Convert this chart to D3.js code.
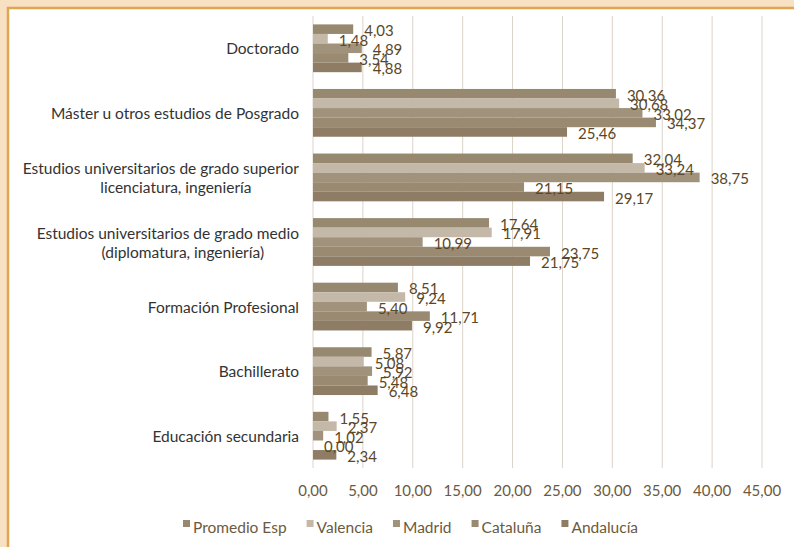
<!DOCTYPE html>
<html>
<head>
<meta charset="utf-8">
<script src="https://cdn.jsdelivr.net/npm/d3@7"></script>
<style>
  html, body { margin: 0; padding: 0; background: #f8e0c2; }
  svg { display: block; font-family: Lato, "Open Sans", sans-serif; }
</style>
</head>
<body>
<svg width="794" height="547"></svg>
<script>
const categories = [
	'Doctorado',
	'Máster u otros estudios de Posgrado',
	'Estudios universitarios de grado superior|licenciatura, ingeniería',
	'Estudios universitarios de grado medio|(diplomatura, ingeniería)',
	'Formación Profesional',
	'Bachillerato',
	'Educación secundaria'
]
const seriesNames = ['Promedio Esp', 'Valencia', 'Madrid', 'Cataluña', 'Andalucía']
const promedio = [4.03, 30.36, 32.04, 17.64, 8.51, 5.87, 1.55]
const valencia = [1.48, 30.68, 33.24, 17.91, 9.24, 5.08, 2.37]
const madrid = [4.89, 33.02, 38.75, 10.99, 5.40, 5.92, 1.02]
const cataluna = [3.54, 34.37, 21.15, 23.75, 11.71, 5.48, 0.00]
const andalucia = [4.88, 25.46, 29.17, 21.75, 9.92, 6.48, 2.34]
const xTicks = [0, 5, 10, 15, 20, 25, 30, 35, 40, 45]

const colors = ['#978870', '#c4b9a9', '#a0927b', '#998a71', '#8e7d64']
const series = [promedio, valencia, madrid, cataluna, andalucia]

const svg = d3.select('svg')
const width = 794, height = 547

// white panel with orange frame
svg.append('rect').attr('x', 8).attr('y', 8).attr('width', width).attr('height', height)
	.attr('fill', '#fff').attr('stroke', '#e0a552').attr('stroke-width', 2.5)

const locale = d3.formatLocale({decimal: ',', thousands: '.', grouping: [3], currency: ['', '€']})
const fmt = locale.format('.2f')

const x = d3.scaleLinear().domain([0, 45]).range([313, 762])
const y = d3.scaleBand().domain(d3.range(categories.length)).range([16, 468])
	.paddingInner(0.26).paddingOuter(0.13)
const ys = d3.scaleBand().domain(d3.range(seriesNames.length)).range([0, y.bandwidth()])

// gridlines
svg.append('g').selectAll('line').data(xTicks).join('line')
	.attr('x1', d => x(d)).attr('x2', d => x(d))
	.attr('y1', 16).attr('y2', 468)
	.attr('stroke', '#dcd3c8').attr('stroke-width', 1)

// tick labels
svg.append('g').selectAll('text').data(xTicks).join('text')
	.attr('x', d => x(d)).attr('y', 490)
	.attr('text-anchor', 'middle').attr('dominant-baseline', 'central')
	.attr('font-size', 15).attr('fill', '#6b5a40')
	.text(d => fmt(d))

// bars
const groups = svg.append('g').selectAll('g').data(categories).join('g')
	.attr('transform', (d, i) => `translate(0,${y(i)})`)

groups.selectAll('rect').data((d, i) => series.map((s, j) => ({v: s[i], j}))).join('rect')
	.attr('x', x(0)).attr('y', d => ys(d.j))
	.attr('width', d => x(d.v) - x(0)).attr('height', ys.bandwidth())
	.attr('fill', d => colors[d.j])

groups.selectAll('text').data((d, i) => series.map((s, j) => ({v: s[i], j}))).join('text')
	.attr('x', d => x(d.v) + 11).attr('y', d => ys(d.j) + ys.bandwidth() / 2 + 1)
	.attr('dominant-baseline', 'central')
	.attr('font-size', 15).attr('fill', '#5a4729')
	.text(d => fmt(d.v))

// category labels
svg.append('g').selectAll('text').data(categories).join('text')
	.attr('font-size', 15.5).attr('fill', '#333')
	.each(function(d, i) {
		const lines = d.split('|')
		const cy = y(i) + y.bandwidth() / 2
		const t = d3.select(this)
		if (lines.length === 1) {
			t.attr('x', 299).attr('y', cy).attr('text-anchor', 'end').attr('dominant-baseline', 'central').text(d)
		} else {
			t.attr('text-anchor', 'middle')
			const t0 = t.append('tspan').attr('dominant-baseline', 'central').text(lines[0])
			const w = t0.node().getComputedTextLength()
			const cx = 299 - w / 2
			t0.attr('x', cx).attr('y', cy - 9)
			t.append('tspan').attr('dominant-baseline', 'central').attr('x', cx + 15).attr('y', cy + 10).text(lines[1])
		}
	})

// legend
const legend = svg.append('g')
let lx = 183
seriesNames.forEach((name, j) => {
	legend.append('rect').attr('x', lx).attr('y', 520).attr('width', 7).attr('height', 7).attr('fill', colors[j])
	const t = legend.append('text').attr('x', lx + 10).attr('y', 527)
		.attr('dominant-baseline', 'central').attr('font-size', 15.5).attr('fill', '#6b5a40').text(name)
	lx += 10 + t.node().getComputedTextLength() + 20
})
</script>
</body>
</html>
